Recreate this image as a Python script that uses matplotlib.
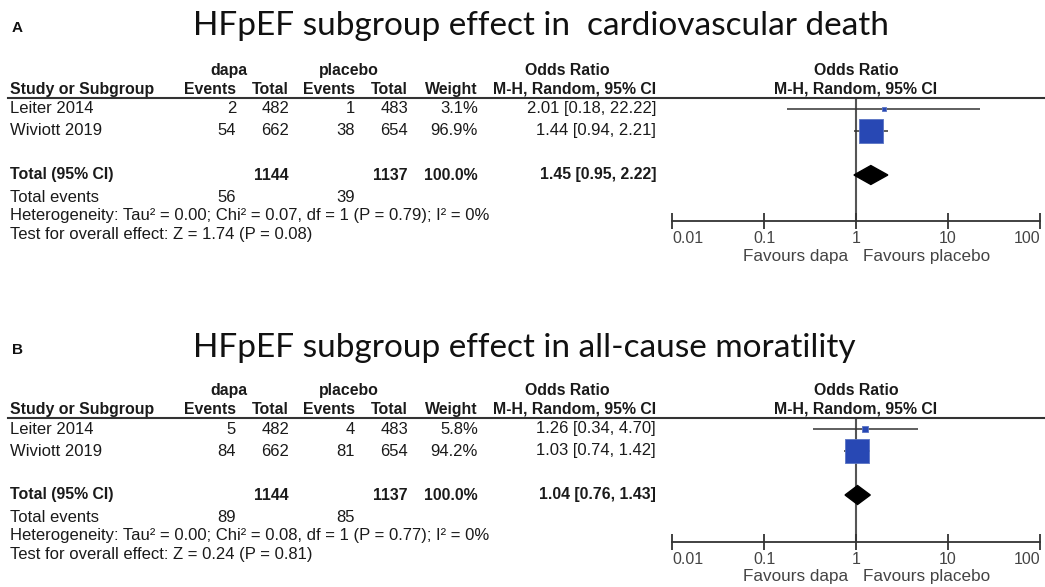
import matplotlib
matplotlib.use("Agg")
import matplotlib.pyplot as plt
import matplotlib.transforms as mtrans
from matplotlib.patches import Polygon

# ---------------- data ----------------
studies = ["Leiter 2014", "Wiviott 2019"]
dapa_total = [482, 662]
placebo_total = [483, 654]

titles = ["HFpEF subgroup effect in  cardiovascular death",
          "HFpEF subgroup effect in all-cause moratility"]
panel_letters = ["A", "B"]

dapa_events_A = [2, 54]
placebo_events_A = [1, 38]
weight_A = [3.1, 96.9]
or_A = [2.01, 1.44]
lo_A = [0.18, 0.94]
hi_A = [22.22, 2.21]
total_A = [1.45, 0.95, 2.22]
het_A = "Heterogeneity: Tau\u00b2 = 0.00; Chi\u00b2 = 0.07, df = 1 (P = 0.79); I\u00b2 = 0%"
test_A = "Test for overall effect: Z = 1.74 (P = 0.08)"

dapa_events_B = [5, 84]
placebo_events_B = [4, 81]
weight_B = [5.8, 94.2]
or_B = [1.26, 1.03]
lo_B = [0.34, 0.74]
hi_B = [4.70, 1.42]
total_B = [1.04, 0.76, 1.43]
het_B = "Heterogeneity: Tau\u00b2 = 0.00; Chi\u00b2 = 0.08, df = 1 (P = 0.77); I\u00b2 = 0%"
test_B = "Test for overall effect: Z = 0.24 (P = 0.81)"

tick_values = [0.01, 0.1, 1, 10, 100]
tick_labels = ["0.01", "0.1", "1", "10", "100"]
favours = ["Favours dapa", "Favours placebo"]

panels = [
    dict(de=dapa_events_A, pe=placebo_events_A, w=weight_A, orr=or_A, lo=lo_A, hi=hi_A,
         tot=total_A, het=het_A, test=test_A, header=98, axis=221, title_y=26, letter_y=28),
    dict(de=dapa_events_B, pe=placebo_events_B, w=weight_B, orr=or_B, lo=lo_B, hi=hi_B,
         tot=total_B, het=het_B, test=test_B, header=418, axis=542, title_y=348, letter_y=350),
]

# ---------------- figure ----------------
W, H = 1045, 587
fig = plt.figure(figsize=(W / 100, H / 100), dpi=100)
fig.patch.set_facecolor("white")

TFONT = "Liberation Sans"
RSIZE = 12.0   # regular table text
BSIZE = 11.4   # bold table text
TCOL = "#1a1a1a"
GCOL = "#444444"
ROW = 22.0  # px per row


def fx(px):
    return px / W


def fy(py):
    return 1 - py / H


# column right edges (px)
col_study = 10
col_de = 236
col_dt = 289
col_pe = 355
col_pt = 408
col_w = 478
col_or = 656
x_left, x_right = 672, 1040

for i, p in enumerate(panels):
    # title and letter
    fig.text(fx(193), fy(p["title_y"]), titles[i], family="Lato", fontsize=24,
             ha="left", va="center", color="#111111")
    fig.text(fx(12), fy(p["letter_y"]), panel_letters[i], family=TFONT, fontsize=11,
             fontweight="bold", ha="left", va="center", color="#111111")

    header, axis = p["header"], p["axis"]
    ax = fig.add_axes([fx(x_left), fy(axis), (x_right - x_left) / W, (axis - header) / H])
    ax.set_xscale("log")
    ax.set_xlim(0.01, 100)
    bottom_row = 0.5 + (axis - header) / ROW
    ax.set_ylim(bottom_row, 0.5)
    ax.patch.set_alpha(0)
    for s in ["top", "right", "left"]:
        ax.spines[s].set_visible(False)
    ax.spines["bottom"].set_color("#333333")
    ax.spines["bottom"].set_linewidth(1.3)
    ax.set_yticks([])
    ax.minorticks_off()
    ax.set_xticks(tick_values)
    ax.set_xticklabels(tick_labels)
    ax.tick_params(axis="x", direction="inout", length=11, width=1.3, color="#333333",
                   labelsize=11.5, labelcolor=GCOL, pad=2)
    for lab in ax.get_xticklabels():
        lab.set_family(TFONT)
    labs = ax.get_xticklabels()
    labs[0].set_ha("left")
    labs[-1].set_ha("right")

    # line of no effect
    ax.axvline(1, color="#555555", lw=1.5, zorder=1)
    # header rule across the whole width
    ax.axhline(0.5, xmin=(8 - x_left) / (x_right - x_left), xmax=(W - x_left) / (x_right - x_left),
               color="#333333", lw=1.5, clip_on=False, zorder=2)

    rows = [1, 2]
    total_row = 4
    # CIs and squares
    ax.hlines(rows, p["lo"], p["hi"], color="#333333", lw=1.1, zorder=2)
    sizes = [300 * w / 96.9 for w in p["w"]]
    ax.scatter(p["orr"], rows, s=sizes, marker="s", color="#2848b4", edgecolors="#5a74c4",
               linewidths=0.6, zorder=3)
    est, lo, hi = p["tot"]
    hh = 0.43
    ax.add_patch(Polygon([(lo, total_row), (est, total_row - hh), (hi, total_row),
                          (est, total_row + hh)], closed=True, color="black", zorder=4))

    tr = mtrans.blended_transform_factory(fig.transFigure, ax.transData)

    def t(x, y, s, ha="right", bold=False):
        ax.text(fx(x), y, s, transform=tr, ha=ha, va="center", family=TFONT,
                fontsize=BSIZE if bold else RSIZE, fontweight="bold" if bold else "normal",
                color=TCOL, clip_on=False)

    h1, h2 = -0.75, 0.1
    # forest headers
    t(856, h1, "Odds Ratio", ha="center", bold=True)
    t(856, h2, "M-H, Random, 95% CI", ha="center", bold=True)
    # favours
    fav_y = axis + 35
    fig.text(fx(848), fy(fav_y), favours[0], ha="right", va="center", family=TFONT,
             fontsize=12.3, color=GCOL)
    fig.text(fx(863), fy(fav_y), favours[1], ha="left", va="center", family=TFONT,
             fontsize=12.3, color=GCOL)

    # table headers
    t(229, h1, "dapa", ha="center", bold=True)
    t(349, h1, "placebo", ha="center", bold=True)
    t(567, h1, "Odds Ratio", ha="center", bold=True)
    t(col_study, h2, "Study or Subgroup", ha="left", bold=True)
    t(col_de, h2, "Events", bold=True)
    t(col_dt, h2, "Total", bold=True)
    t(col_pe, h2, "Events", bold=True)
    t(col_pt, h2, "Total", bold=True)
    t(col_w, h2, "Weight", bold=True)
    t(col_or, h2, "M-H, Random, 95% CI", bold=True)

    # study rows
    for r, name, de, dt, pe, pt, w, o, l, h in zip(rows, studies, p["de"], dapa_total, p["pe"],
                                                   placebo_total, p["w"], p["orr"], p["lo"], p["hi"]):
        t(col_study, r, name, ha="left")
        t(col_de, r, f"{de}")
        t(col_dt, r, f"{dt}")
        t(col_pe, r, f"{pe}")
        t(col_pt, r, f"{pt}")
        t(col_w, r, f"{w:.1f}%")
        t(col_or, r, f"{o:.2f} [{l:.2f}, {h:.2f}]")

    # totals
    t(col_study, total_row, "Total (95% CI)", ha="left", bold=True)
    t(col_dt, total_row, f"{sum(dapa_total)}", bold=True)
    t(col_pt, total_row, f"{sum(placebo_total)}", bold=True)
    t(col_w, total_row, f"{sum(p['w']):.1f}%", bold=True)
    t(col_or, total_row, f"{est:.2f} [{lo:.2f}, {hi:.2f}]", bold=True)
    t(col_study, 5.0, "Total events", ha="left")
    t(col_de, 5.0, f"{sum(p['de'])}")
    t(col_pe, 5.0, f"{sum(p['pe'])}")
    t(col_study, 5.85, p["het"], ha="left")
    t(col_study, 6.7, p["test"], ha="left")

fig.savefig("out.png", dpi=100, facecolor="white")
